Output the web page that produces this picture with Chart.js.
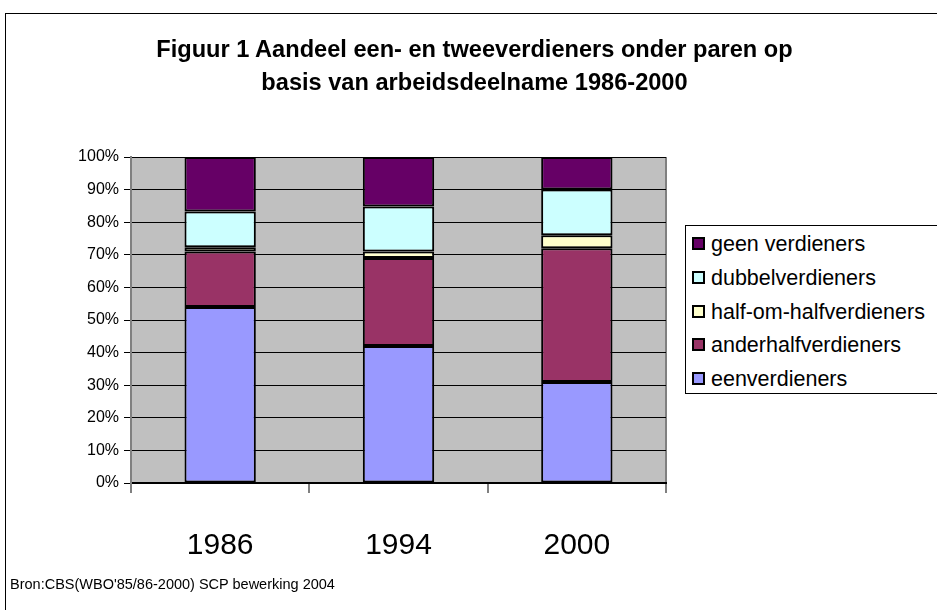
<!DOCTYPE html>
<html>
<head>
<meta charset="utf-8">
<script src="https://cdn.jsdelivr.net/npm/chart.js@4"></script>
<style>
  body { margin: 0; background: #fff; font-family: "Liberation Sans", Arial, sans-serif; }
  #wrap { position: relative; width: 937px; height: 610px; overflow: hidden; }
  #frame { position: absolute; left: 5px; top: 13px; width: 960px; height: 620px; border: 1px solid #000; }
  #myChart { position: absolute; left: 0; top: 0; }
  #title { position: absolute; left: 6px; width: 937px; top: 33px; text-align: center; font-weight: bold; font-size: 23.6px; line-height: 33px; color: #000; }
  #legend { position: absolute; left: 685px; top: 225px; width: 270px; height: 167px; border: 1px solid #000; background: #fff; }
  .item { position: absolute; left: 6px; height: 22px; font-size: 21.5px; line-height: 22px; color: #000; white-space: nowrap; }
  .box { display: inline-block; width: 9px; height: 9px; border: 2px solid #000; margin-right: 6px; vertical-align: 1px; }
  #source { position: absolute; left: 10px; top: 576px; font-size: 14.5px; color: #000; }
</style>
</head>
<body>
<div id="wrap">
  <div id="frame"></div>
  <canvas id="myChart" width="937" height="610"></canvas>
  <div id="title">Figuur 1 Aandeel een- en tweeverdieners onder paren op<br>basis van arbeidsdeelname 1986-2000</div>
  <div id="legend"></div>
  <div id="source">Bron:CBS(WBO'85/86-2000) SCP bewerking 2004</div>
</div>
<script>
const years = ['1986', '1994', '2000'];
const yTicks = ['0%', '10%', '20%', '30%', '40%', '50%', '60%', '70%', '80%', '90%', '100%'];

const seriesNames = ['eenverdieners', 'anderhalfverdieners', 'half-om-halfverdieners', 'dubbelverdieners', 'geen verdieners'];
const seriesColors = ['#9999FF', '#993366', '#FFFFCC', '#CCFFFF', '#660066'];

const een = [54, 42, 31];
const anderhalf = [17, 27, 41];
const halfOmHalf = [1.3, 2, 4];
const dubbel = [11, 13.8, 14];
const geen = [16.7, 15.2, 10];

const values = [een, anderhalf, halfOmHalf, dubbel, geen];

const plotBg = {
  id: 'plotBg',
  beforeDraw(chart) {
    const { ctx, chartArea: a } = chart;
    ctx.save();
    ctx.fillStyle = '#C0C0C0';
    ctx.fillRect(a.left, a.top, a.right - a.left, a.bottom - a.top);
    ctx.strokeStyle = '#808080';
    ctx.lineWidth = 2;
    ctx.beginPath();
    ctx.moveTo(a.right, a.top);
    ctx.lineTo(a.right, a.bottom);
    ctx.stroke();
    ctx.restore();
  }
};

const chart = new Chart(document.getElementById('myChart'), {
  type: 'bar',
  data: {
    labels: years,
    datasets: seriesNames.map((name, i) => ({
      label: name,
      data: values[i],
      backgroundColor: seriesColors[i],
      borderColor: '#000',
      borderWidth: 2,
      borderSkipped: false,
      barPercentage: 0.4,
      categoryPercentage: 1
    }))
  },
  options: {
    responsive: false,
    animation: false,
    layout: { padding: { top: 157, right: 271, bottom: 0, left: 0 } },
    plugins: {
      legend: { display: false },
      title: { display: false },
      tooltip: { enabled: false }
    },
    scales: {
      x: {
        stacked: true,
        afterFit(scale) { scale.height = 127; },
        grid: { display: true, drawOnChartArea: false, drawTicks: true, tickLength: 10, color: '#808080', lineWidth: 2 },
        border: { color: '#000', width: 2 },
        ticks: { color: '#000', padding: 35, font: { family: 'Liberation Sans', size: 30 } }
      },
      y: {
        stacked: true,
        min: 0,
        max: 100,
        afterFit(scale) { scale.width = 131; },
        grid: { color: '#000', lineWidth: 1, tickLength: 7 },
        border: { color: '#808080', width: 2 },
        ticks: {
          stepSize: 10,
          color: '#000',
          padding: 5,
          font: { family: 'Liberation Sans', size: 16 },
          callback: (v) => yTicks[Math.round(v / 10)]
        }
      }
    }
  },
  plugins: [plotBg]
});

// legend in reverse stacking order, as in the original
const legendEl = document.getElementById('legend');
const rowTops = [7, 41, 75, 108, 142];
seriesNames.slice().reverse().forEach((name, j) => {
  const i = seriesNames.length - 1 - j;
  const row = document.createElement('div');
  row.className = 'item';
  row.style.top = rowTops[j] + 'px';
  row.innerHTML = '<span class="box" style="background:' + seriesColors[i] + '"></span>' + name;
  legendEl.appendChild(row);
});
</script>
</body>
</html>
